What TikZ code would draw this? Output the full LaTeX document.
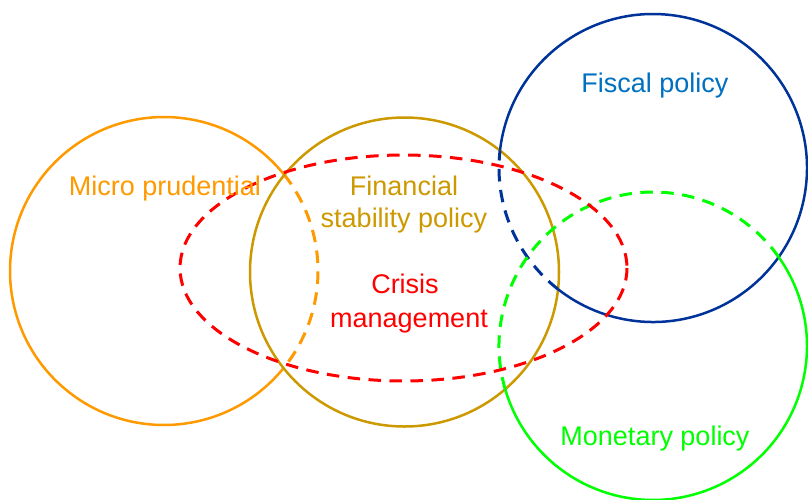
\documentclass[tikz,border=0pt]{standalone}
\usepackage{fontspec}
\setmainfont{Liberation Sans}
\definecolor{cOrange}{RGB}{255,153,0}
\definecolor{cGold}{RGB}{204,153,0}
\definecolor{cRed}{RGB}{255,0,0}
\definecolor{cNavy}{RGB}{0,51,153}
\definecolor{cBlueText}{RGB}{0,112,192}
\definecolor{cGreen}{RGB}{0,255,0}
\begin{document}
\begin{tikzpicture}[x=1pt,y=-1pt,
  solidline/.style={line width=2.5pt},
  dashline/.style={line width=3pt,dash pattern=on 12.5pt off 8.5pt},
  lbl/.style={anchor=base,inner sep=0pt,font=\fontsize{27}{33}\selectfont}]
\useasboundingbox (0,0) rectangle (808,499);
\coordinate (cO) at (164,271);
\coordinate (cG) at (404.5,272);
\coordinate (cB) at (653,168);
\coordinate (cM) at (653,346);
\coordinate (cR) at (403.5,268);
% micro prudential (orange)
\draw[solidline,cOrange] (cO) ++(38.9:154) arc[start angle=38.9,end angle=321.1,radius=154];
\draw[dashline,cOrange] (cO) ++(-38.9:154) arc[start angle=-38.9,end angle=38.9,radius=154];
% financial stability (gold)
\draw[solidline,cGold] (cG) circle[radius=154.5];
% fiscal policy (navy)
\draw[solidline,cNavy] (cB) ++(186.5:154) arc[start angle=186.5,end angle=488.1,radius=154];
\draw[dashline,cNavy] (cB) ++(128.1:154) arc[start angle=128.1,end angle=186.5,radius=154];
% monetary policy (green)
\draw[solidline,cGreen] (cM) ++(-35.3:154) arc[start angle=-35.3,end angle=163.7,radius=154];
\draw[dashline,cGreen] (cM) ++(163.7:154) arc[start angle=163.7,end angle=324.7,radius=154];
% crisis management (red dashed ellipse)
\draw[dashline,cRed] (cR) ellipse[x radius=223.5,y radius=113];
% labels
\node[lbl,text=cOrange] (micro) at (165,195) {Micro prudential};
\node[lbl,text=cBlueText] (fiscal) at (655,92) {Fiscal policy};
\node[lbl,text=cGold] (fin1) at (404,195) {Financial};
\node[lbl,text=cGold] (fin2) at (404,227) {stability policy};
\node[lbl,text=cRed] (cr1) at (405,293) {Crisis};
\node[lbl,text=cRed] (cr2) at (409,327) {management};
\node[lbl,text=cGreen] (mon) at (655,445) {Monetary policy};
\end{tikzpicture}
\end{document}
